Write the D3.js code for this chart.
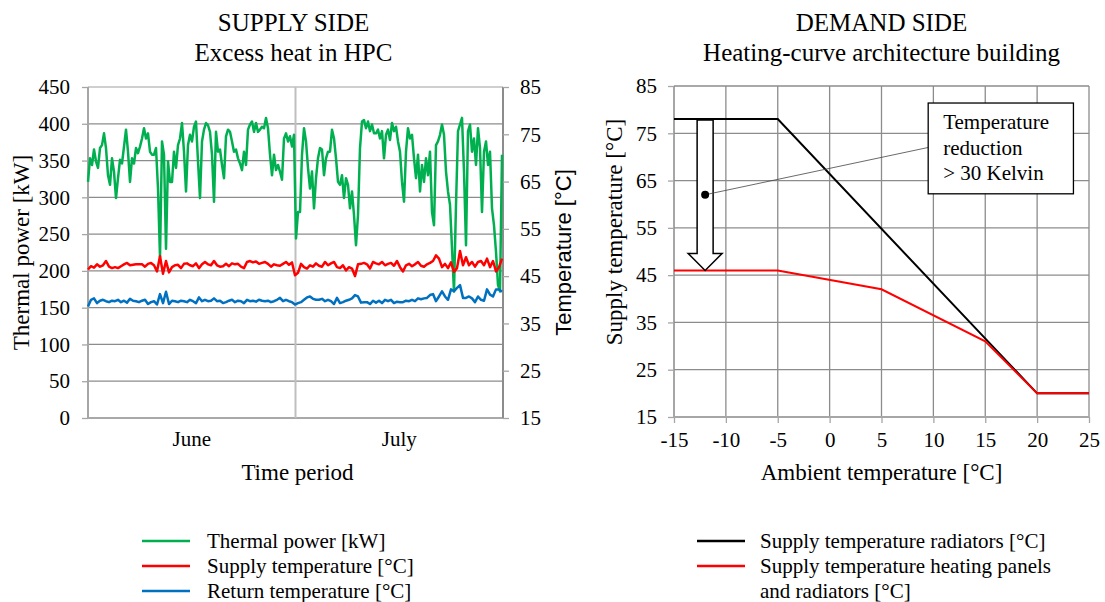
<!DOCTYPE html>
<html>
<head>
<meta charset="utf-8">
<script src="https://cdn.jsdelivr.net/npm/d3@7"></script>
<style>
  body { margin: 0; background: #fff; }
  svg text { font-family: 'Liberation Serif', 'Times New Roman', serif; }
  svg text.sans { font-family: 'Liberation Sans', Arial, sans-serif; }
</style>
</head>
<body>
<script>
// ---- data ----
const months = ['June', 'July'];
const powerTicks = [0, 50, 100, 150, 200, 250, 300, 350, 400, 450];
const tempTicks = [15, 25, 35, 45, 55, 65, 75, 85];

// thermal power [kW], evenly spaced samples over June-July
const thermalPower = [
  321, 353, 344, 365, 349, 340, 367, 371, 387, 367, 330, 317, 353, 335, 299, 326, 351, 346, 369, 392,
  362, 321, 353, 346, 367, 360, 369, 380, 394, 380, 387, 362, 358, 358, 367, 312, 219, 376, 358, 230,
  349, 321, 321, 362, 340, 371, 380, 401, 362, 308, 371, 385, 376, 396, 403, 349, 299, 376, 392, 401,
  398, 389, 358, 294, 389, 362, 365, 344, 326,
  383, 392, 389, 376, 362, 365, 353, 346, 337, 362, 344, 392, 399, 403, 389, 401, 389, 392, 396, 394,
  408, 394, 358, 330, 358, 337, 344, 335, 324, 380, 387, 376, 383, 369, 385, 244, 280, 280, 358, 394,
  376, 340, 312, 335, 285, 326, 353, 367, 365, 330, 353, 362, 362, 392, 380, 353, 321, 317, 330, 299,
  326, 317, 285, 308, 276, 235, 276, 367, 403,
  405, 394, 403, 390, 399, 387, 387, 392, 380, 390, 353, 385, 392, 378, 401, 390, 396, 376, 362, 321,
  294, 362, 394, 380, 385, 353, 326, 358, 308, 344, 321, 353, 330, 362, 280, 262, 371, 376, 385, 399,
  385, 335, 308, 290, 231, 172, 290, 390, 399, 408, 335, 235, 390, 399, 362, 380, 344, 394, 367, 280,
  362, 376, 344, 362, 285, 262, 226, 181, 172, 358
];

// supply temperature [°C]
const supplyTemp = [
  46.4, 47.1, 46.8, 47.5, 47.0, 47.3, 48.2, 47.0, 46.7, 46.9, 46.7, 47.1, 47.5, 47.8, 47.3, 47.4, 47.5, 47.5, 47.5, 47.0,
  47.6, 47.8, 47.3, 46.0, 49.2, 45.5, 48.2, 45.8, 46.9, 47.3, 47.4, 46.7, 47.6, 47.7, 47.3, 47.1, 47.7, 46.7, 47.5, 48.0,
  47.5, 47.3, 48.2, 47.3, 47.0, 47.1,
  47.6, 47.1, 47.7, 47.5, 47.6, 47.0, 46.7, 48.0, 48.2, 47.9, 48.1, 47.6, 47.8, 48.0, 47.6, 47.0, 47.5, 47.3, 47.2, 47.6,
  48.0, 47.4, 47.9, 45.2, 45.7, 47.6, 46.9, 46.6, 47.3, 47.0, 47.7, 47.2, 47.0, 48.0, 47.3, 47.7, 48.0, 46.9, 46.7, 47.3,
  46.2, 46.9, 46.6, 45.0, 47.5, 47.6,
  47.8, 47.5, 46.6, 48.0, 47.7, 47.5, 48.0, 47.3, 47.6, 47.8, 47.2, 48.2, 46.9, 46.0, 47.3, 47.6, 47.1, 47.5, 48.0, 47.2,
  47.0, 47.5, 47.8, 48.2, 49.4, 48.7, 46.9, 47.6, 46.7, 47.9, 45.9, 46.7, 50.3, 47.3, 49.0, 47.3, 48.0, 47.0, 48.0, 48.2,
  47.3, 48.7, 46.9, 48.2, 46.0, 46.9, 48.7
];

// return temperature [°C]
const returnTemp = [
  38.6, 40.0, 40.3, 39.3, 39.8, 40.0, 39.7, 39.5, 39.8, 39.7, 40.0, 39.5, 39.8, 39.4, 40.2, 39.8, 39.7, 39.5, 39.8, 40.0,
  39.1, 39.5, 39.7, 39.0, 41.2, 39.3, 41.7, 39.1, 39.8, 39.7, 39.5, 39.8, 39.7, 39.5, 40.0, 39.7, 39.3, 40.5, 39.7, 40.0,
  39.7, 39.8, 40.3, 39.7, 39.8, 39.3,
  39.5, 39.8, 40.0, 39.5, 39.8, 39.7, 39.3, 40.0, 39.7, 39.8, 39.6, 40.0, 39.8, 39.7, 39.8, 39.5, 39.7, 40.0, 40.4, 39.7,
  40.0, 39.7, 39.5, 39.0, 39.3, 39.5, 40.0, 40.5, 40.7, 40.2, 40.0, 40.0, 40.2, 39.7, 40.0, 39.7, 39.1, 40.4, 39.3, 39.5,
  39.8, 40.0, 40.3, 41.0, 40.7, 39.4,
  39.5, 39.5, 39.1, 39.8, 39.4, 39.8, 39.3, 40.0, 39.7, 40.0, 39.3, 39.6, 39.5, 39.5, 39.8, 39.7, 40.0, 39.7, 40.3, 40.1,
  40.3, 40.4, 41.0, 41.2, 39.7, 40.7, 41.8, 40.7, 40.0, 42.2, 41.8, 42.5, 43.1, 40.4, 40.4, 40.7, 40.3, 39.5, 40.7, 40.0,
  39.8, 42.2, 41.1, 40.7, 42.2, 42.2, 41.7
];

// heating curves
const ambientTicks = [-15, -10, -5, 0, 5, 10, 15, 20, 25];
const curveTicks = [15, 25, 35, 45, 55, 65, 75, 85];
const radiatorAmbient = [-15, -5, 20, 25];
const radiatorSupply = [78, 78, 20, 20];
const panelAmbient = [-15, -5, 5, 15, 20, 25];
const panelSupply = [46, 46, 42, 31, 20, 20];

const leftLegend = [
  { label: ['Thermal power [kW]'], color: '#00b050' },
  { label: ['Supply temperature [°C]'], color: '#ff0000' },
  { label: ['Return temperature [°C]'], color: '#0070c0' }
];
const rightLegend = [
  { label: ['Supply temperature radiators [°C]'], color: '#000000' },
  { label: ['Supply temperature heating panels', 'and radiators [°C]'], color: '#ff0000' }
];

// ---- drawing ----
const width = 1105;
const height = 602;
const gridColor = '#8c8c8c';
const axisColor = '#a6a6a6';

const svg = d3.select('body').append('svg')
  .attr('width', width)
  .attr('height', height)
  .style('display', 'block');

const styleAxis = (g) => {
  g.attr('font-family', null).attr('font-size', null);
  g.select('.domain').remove();
  g.selectAll('.tick line').attr('stroke', axisColor).attr('stroke-width', 1.3);
  g.selectAll('.tick text').attr('fill', '#000').style('font-size', '21px');
};

// ===== left chart: supply side =====
const L = { left: 88, right: 503, top: 87, bottom: 418 };

const yPower = d3.scaleLinear().domain([0, 450]).range([L.bottom, L.top]);
const yTemp = d3.scaleLinear().domain([15, 85]).range([L.bottom, L.top]);
const xMonth = d3.scaleBand().domain(months).range([L.left, L.right]);
const xPower = d3.scaleLinear().domain([0, thermalPower.length - 1]).range([L.left, L.right - 1]);
const xTempIdx = d3.scaleLinear().domain([0, supplyTemp.length - 1]).range([L.left, L.right - 1]);

const left = svg.append('g');

left.append('g')
  .selectAll('line')
  .data(powerTicks)
  .enter()
  .append('line')
  .attr('x1', L.left)
  .attr('x2', L.right)
  .attr('y1', (d) => yPower(d))
  .attr('y2', (d) => yPower(d))
  .attr('stroke', (d) => (d === 450 ? '#bfbfbf' : gridColor))
  .attr('stroke-width', 1.3);

// month separator
left.append('line')
  .attr('x1', xMonth('July'))
  .attr('x2', xMonth('July'))
  .attr('y1', L.top)
  .attr('y2', L.bottom)
  .attr('stroke', '#bfbfbf')
  .attr('stroke-width', 2);

left.append('line')
  .attr('x1', L.left).attr('x2', L.left)
  .attr('y1', L.top).attr('y2', L.bottom)
  .attr('stroke', axisColor).attr('stroke-width', 2);
left.append('line')
  .attr('x1', L.right).attr('x2', L.right)
  .attr('y1', L.top).attr('y2', L.bottom)
  .attr('stroke', gridColor).attr('stroke-width', 2);

left.append('g')
  .attr('transform', 'translate(' + L.left + ',0)')
  .call(d3.axisLeft(yPower).tickValues(powerTicks).tickSize(6).tickPadding(12))
  .call(styleAxis);

left.append('g')
  .attr('transform', 'translate(' + L.right + ',0)')
  .call(d3.axisRight(yTemp).tickValues(tempTicks).tickSize(6).tickPadding(11))
  .call(styleAxis);

left.append('g')
  .attr('transform', 'translate(0,' + L.bottom + ')')
  .call(d3.axisBottom(xMonth).tickSize(0).tickPadding(13))
  .call(styleAxis);

const powerLine = d3.line().x((d, i) => xPower(i)).y((d) => yPower(d));
const tempLine = d3.line().x((d, i) => xTempIdx(i)).y((d) => yTemp(d));

left.append('path')
  .attr('d', powerLine(thermalPower))
  .attr('fill', 'none')
  .attr('stroke', '#00b050')
  .attr('stroke-width', 2.5)
  .attr('stroke-linejoin', 'round');
left.append('path')
  .attr('d', tempLine(supplyTemp))
  .attr('fill', 'none')
  .attr('stroke', '#ff0000')
  .attr('stroke-width', 2.5)
  .attr('stroke-linejoin', 'round');
left.append('path')
  .attr('d', tempLine(returnTemp))
  .attr('fill', 'none')
  .attr('stroke', '#0070c0')
  .attr('stroke-width', 2.5)
  .attr('stroke-linejoin', 'round');

// titles
const leftMid = (L.left + L.right) / 2;
left.append('text').attr('x', leftMid - 2).attr('y', 31).attr('text-anchor', 'middle')
  .style('font-size', '25px').text('SUPPLY SIDE');
left.append('text').attr('x', leftMid - 2).attr('y', 61).attr('text-anchor', 'middle')
  .style('font-size', '25px').text('Excess heat in HPC');
left.append('text').attr('x', leftMid + 2).attr('y', 480).attr('text-anchor', 'middle')
  .style('font-size', '23px').text('Time period');
left.append('text')
  .attr('transform', 'translate(29,' + (L.top + L.bottom) / 2 + ') rotate(-90)')
  .attr('text-anchor', 'middle')
  .style('font-size', '23px')
  .text('Thermal power [kW]');
left.append('text')
  .attr('class', 'sans')
  .attr('transform', 'translate(571,' + (L.top + L.bottom) / 2 + ') rotate(-90)')
  .attr('text-anchor', 'middle')
  .style('font-size', '22px')
  .text('Temperature [°C]');

// ===== right chart: demand side =====
const R = { left: 674, right: 1089, top: 86, bottom: 417 };

const xAmb = d3.scaleLinear().domain([-15, 25]).range([R.left, R.right]);
const yCurve = d3.scaleLinear().domain([15, 85]).range([R.bottom, R.top]);

const right = svg.append('g');

right.append('g')
  .selectAll('line')
  .data(ambientTicks)
  .enter()
  .append('line')
  .attr('x1', (d) => xAmb(d))
  .attr('x2', (d) => xAmb(d))
  .attr('y1', R.top)
  .attr('y2', R.bottom)
  .attr('stroke', (d) => (d === -15 ? axisColor : gridColor))
  .attr('stroke-width', (d) => (d === -15 ? 2 : 1.3));

right.append('g')
  .selectAll('line')
  .data(curveTicks)
  .enter()
  .append('line')
  .attr('x1', R.left)
  .attr('x2', R.right)
  .attr('y1', (d) => yCurve(d))
  .attr('y2', (d) => yCurve(d))
  .attr('stroke', (d) => (d === 15 ? axisColor : gridColor))
  .attr('stroke-width', (d) => (d === 15 ? 2 : 1.3));

right.append('g')
  .attr('transform', 'translate(' + R.left + ',0)')
  .call(d3.axisLeft(yCurve).tickValues(curveTicks).tickSize(6).tickPadding(11))
  .call(styleAxis);

right.append('g')
  .attr('transform', 'translate(0,' + R.bottom + ')')
  .call(d3.axisBottom(xAmb).tickValues(ambientTicks).tickSize(6).tickPadding(9).tickFormat((d) => String(d)))
  .call(styleAxis);

const curveLine = d3.line().x((d) => xAmb(d[0])).y((d) => yCurve(d[1]));

right.append('path')
  .attr('d', curveLine(radiatorAmbient.map((a, i) => [a, radiatorSupply[i]])))
  .attr('fill', 'none')
  .attr('stroke', '#000')
  .attr('stroke-width', 2);
right.append('path')
  .attr('d', curveLine(panelAmbient.map((a, i) => [a, panelSupply[i]])))
  .attr('fill', 'none')
  .attr('stroke', '#ff0000')
  .attr('stroke-width', 2);

// arrow: temperature reduction from 78 to 46 at -12 °C
const ax = xAmb(-12);
const aTop = yCurve(78) + 1;
const aTip = yCurve(46);
const shaft = 8;
const head = 17;
right.append('polygon')
  .attr('points', [
    [ax - shaft, aTop], [ax + shaft, aTop], [ax + shaft, aTip - head],
    [ax + head, aTip - head], [ax, aTip], [ax - head, aTip - head], [ax - shaft, aTip - head]
  ].map((p) => p.join(',')).join(' '))
  .attr('fill', '#fff')
  .attr('stroke', '#000')
  .attr('stroke-width', 1.5);

// callout box
const box = { x0: xAmb(9.5), x1: xAmb(23.5), y0: yCurve(81.4), y1: yCurve(62.2) };
right.append('line')
  .attr('x1', ax).attr('y1', yCurve(62))
  .attr('x2', box.x0).attr('y2', yCurve(72))
  .attr('stroke', '#444').attr('stroke-width', 0.8);
right.append('circle')
  .attr('cx', ax).attr('cy', yCurve(62)).attr('r', 4)
  .attr('fill', '#000');
right.append('rect')
  .attr('x', box.x0).attr('y', box.y0)
  .attr('width', box.x1 - box.x0).attr('height', box.y1 - box.y0)
  .attr('fill', '#fff').attr('stroke', '#000').attr('stroke-width', 1.3);
['Temperature', 'reduction', '> 30 Kelvin'].forEach((t, i) => {
  right.append('text')
    .attr('x', box.x0 + 15)
    .attr('y', box.y0 + 26 + i * 25.5)
    .style('font-size', '21px')
    .text(t);
});

const rightMid = (R.left + R.right) / 2;
right.append('text').attr('x', rightMid).attr('y', 31).attr('text-anchor', 'middle')
  .style('font-size', '25px').text('DEMAND SIDE');
right.append('text').attr('x', rightMid).attr('y', 61).attr('text-anchor', 'middle')
  .style('font-size', '25px').text('Heating-curve architecture building');
right.append('text').attr('x', rightMid).attr('y', 480).attr('text-anchor', 'middle')
  .style('font-size', '23px').text('Ambient temperature [°C]');
right.append('text')
  .attr('transform', 'translate(622,' + 232 + ') rotate(-90)')
  .attr('text-anchor', 'middle')
  .style('font-size', '23px')
  .text('Supply temperature [°C]');

// ===== legends =====
const drawLegend = (items, lx, tx) => {
  let row = 0;
  items.forEach((item) => {
    const cy = 541 + row * 25;
    svg.append('line')
      .attr('x1', lx).attr('x2', lx + 48)
      .attr('y1', cy).attr('y2', cy)
      .attr('stroke', item.color).attr('stroke-width', 2.5);
    item.label.forEach((t, j) => {
      svg.append('text')
        .attr('x', tx)
        .attr('y', cy + 7 + j * 25)
        .style('font-size', '21px')
        .text(t);
    });
    row += item.label.length;
  });
};
drawLegend(leftLegend, 142, 207);
drawLegend(rightLegend, 697, 760);
</script>
</body>
</html>
